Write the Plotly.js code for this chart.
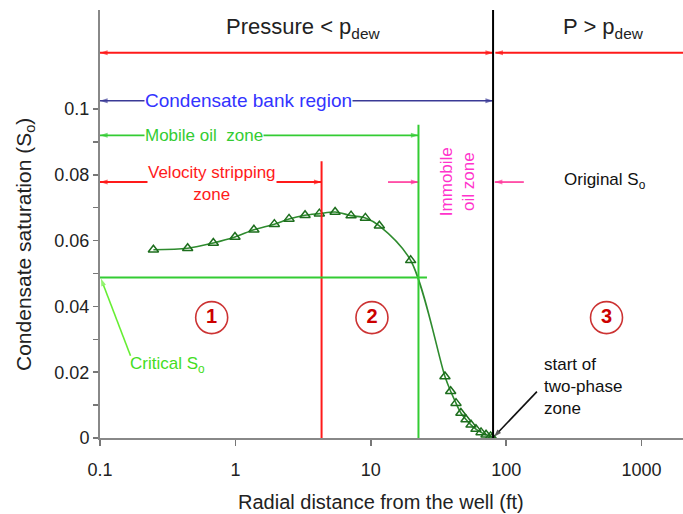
<!DOCTYPE html>
<html>
<head>
<meta charset="utf-8">
<script src="https://cdn.plot.ly/plotly-3.0.1.min.js"></script>
<style>html,body{margin:0;padding:0;background:#fff;}#chart{width:683px;height:514px;}</style>
</head>
<body>
<div id="chart"></div>
<script>
// ---- data ----
const distanceFt = [0.248, 0.444, 0.687, 0.993, 1.37, 1.94, 2.49, 3.27, 4.17, 5.45, 7.15, 9.12, 11.57, 19.7,
                    35.3, 38.9, 42.6, 46.3, 50.5, 55.0, 59.8, 65.2, 71.0, 76.7, 79.0];
const condensateSat = [0.0572, 0.0577, 0.0593, 0.0611, 0.0633, 0.0650, 0.0666, 0.0677, 0.0682, 0.0687, 0.0676, 0.0669, 0.0645, 0.0540,
                       0.0187, 0.0142, 0.0106, 0.0076, 0.0056, 0.0040, 0.0027, 0.0017, 0.0010, 0.0005, 0.0001];
const xTickVals = [0.1, 1, 10, 100, 1000];
const xTickText = ['0.1', '1', '10', '100', '1000'];
const yTickVals = [0, 0.02, 0.04, 0.06, 0.08, 0.1];
const yTickText = ['0', '0.02', '0.04', '0.06', '0.08', '0.1'];
const yMinorVals = [0.01, 0.03, 0.05, 0.07, 0.09];

// zone boundaries / reference values
const wellRadius = 0.1;       // ft, left edge
const dewRadius = 80;         // ft, start of two-phase zone
const strippingEdge = 4.33;   // ft, end of velocity stripping zone
const mobileEdge = 22.5;      // ft, end of mobile oil zone
const criticalSo = 0.0488;    // critical condensate saturation
const criticalLineEnd = 26;   // ft
const xMax = 2023;            // ft, right edge
const zoneLabels = ['1', '2', '3'];
const zoneLabelX = [0.668, 10.2, 551];
const zoneLabelY = 0.0366;

const L = Math.log10;
const FONT = 'Liberation Sans, Arial, sans-serif';
const RED = '#ff1a1a', GREEN = '#33cc33', NAVY = '#3a3a96', PINK = '#ff3399';

const curve = {
  x: distanceFt, y: condensateSat, type: 'scatter', mode: 'lines+markers',
  line: {color: '#2e8b2e', width: 1.6, shape: 'spline', smoothing: 0.9},
  marker: {symbol: 'triangle-up-open', size: 9, color: '#1d6e1d', line: {width: 1.5, color: '#1d6e1d'}},
  hoverinfo: 'skip'
};

// horizontal arrow: heads given by angles (90 = pointing right, -90 = pointing left, null = none)
function hArrow(x0, x1, y, color, width, a0, a1) {
  return {x: [x0, x1], y: [y, y], type: 'scatter', mode: 'lines+markers', hoverinfo: 'skip', cliponaxis: false,
          line: {color: color, width: width},
          marker: {symbol: 'arrow', size: [a0 === null ? 0 : 8, a1 === null ? 0 : 8],
                   angle: [a0 === null ? 0 : a0, a1 === null ? 0 : a1], color: color, line: {width: 0}}};
}
// diagonal arrow from tail to head
function dArrow(xt, yt, xh, yh, color, width) {
  return {x: [xt, xh], y: [yt, yh], type: 'scatter', mode: 'lines+markers', hoverinfo: 'skip', cliponaxis: false,
          line: {color: color, width: width},
          marker: {symbol: 'arrow', size: [0, 8], angleref: 'previous', color: color, line: {width: 0}}};
}

const arrows = [
  hArrow(wellRadius, dewRadius, 0.1171, RED, 2, -90, 90),
  hArrow(dewRadius * 1.04, xMax, 0.1171, RED, 2, -90, null),
  hArrow(wellRadius, dewRadius, 0.1025, NAVY, 1.6, -90, 90),
  hArrow(wellRadius, mobileEdge, 0.0920, GREEN, 1.8, -90, 90),
  hArrow(wellRadius, strippingEdge, 0.0778, RED, 2, -90, 90),
  hArrow(13.4, mobileEdge, 0.0778, PINK, 1.6, null, 90),
  hArrow(dewRadius * 1.03, 135, 0.0778, PINK, 1.6, -90, null),
  dArrow(0.168, 0.0250, 0.1016, 0.0485, '#66ee33', 1.6),
  dArrow(168.7, 0.0141, 81.3, 0.0004, '#111', 1.6)
];

const zoneMarks = {
  x: zoneLabelX, y: zoneLabelX.map(() => zoneLabelY), text: zoneLabels.map(t => '<b>' + t + '</b>'),
  type: 'scatter', mode: 'markers+text', textposition: 'middle center', hoverinfo: 'skip', cliponaxis: false,
  textfont: {family: FONT, size: 20, color: '#cc0000'},
  marker: {symbol: 'circle-open', size: 32, color: '#cc3333', line: {width: 1.6, color: '#cc3333'}}
};

function label(x, y, text, color, size, extra) {
  return Object.assign({x: L(x), y: y, xref: 'x', yref: 'y', text: text, showarrow: false,
          font: {family: FONT, size: size, color: color}}, extra || {});
}

const annotations = [
  label(3.16, 0.1247, 'Pressure &lt; p<sub>dew</sub>', '#222', 22),
  label(519, 0.1247, 'P &gt; p<sub>dew</sub>', '#222', 22),
  label(1.24, 0.1025, 'Condensate bank region', '#3333ff', 19, {bgcolor: 'white', borderpad: 0}),
  label(0.586, 0.0920, 'Mobile oil&nbsp; zone', GREEN, 17, {bgcolor: 'white', borderpad: 0}),
  label(0.671, 0.0775, 'Velocity stripping<br>zone', RED, 17, {bgcolor: 'white', borderpad: 0}),
  label(43.4, 0.0778, 'Immobile<br>oil zone', '#ff33cc', 17, {textangle: -90}),
  label(537, 0.0782, 'Original S<sub>o</sub>', '#111', 17),
  label(0.313, 0.0223, 'Critical S<sub>o</sub>', '#44dd22', 17),
  label(184, 0.0156, 'start of<br>two-phase<br>zone', '#111', 17, {xanchor: 'left', align: 'left'}),
  {xref: 'paper', yref: 'paper', x: 0.482, y: -0.1495, xanchor: 'center', yanchor: 'middle', showarrow: false,
   text: 'Radial distance from the well (ft)', font: {family: FONT, size: 20, color: '#222'}},
  {xref: 'paper', yref: 'paper', x: 0, xshift: -75, y: 0.451, xanchor: 'center', yanchor: 'middle', showarrow: false,
   textangle: -90, text: 'Condensate saturation (S<sub>o</sub>)', font: {family: FONT, size: 21, color: '#222'}}
];

const shapes = [
  {type: 'line', xref: 'x', yref: 'paper', x0: dewRadius, x1: dewRadius, y0: 0, y1: 1, line: {color: '#000', width: 2}},
  {type: 'line', xref: 'x', yref: 'y', x0: strippingEdge, x1: strippingEdge, y0: 0, y1: 0.0841, line: {color: RED, width: 2}},
  {type: 'line', xref: 'x', yref: 'y', x0: mobileEdge, x1: mobileEdge, y0: 0, y1: 0.0952, line: {color: GREEN, width: 2}},
  {type: 'line', xref: 'x', yref: 'y', x0: wellRadius, x1: criticalLineEnd, y0: criticalSo, y1: criticalSo, line: {color: GREEN, width: 2}}
];

const layout = {
  width: 683, height: 514,
  margin: {l: 100, r: 0, t: 10, b: 76},
  paper_bgcolor: 'white', plot_bgcolor: 'white',
  showlegend: false,
  font: {family: FONT, color: '#222'},
  xaxis: {
    type: 'log', range: [L(wellRadius), L(xMax)],
    tickvals: xTickVals, ticktext: xTickText,
    ticks: 'outside', ticklen: 6, tickwidth: 1.5, tickcolor: '#777',
    showline: true, linecolor: '#888', linewidth: 2,
    showgrid: false, zeroline: false, ticklabelstandoff: 8,
    tickfont: {size: 18, color: '#222'}
  },
  yaxis: {
    range: [0, 0.1301],
    tickvals: yTickVals, ticktext: yTickText,
    ticks: 'outside', ticklen: 5, tickwidth: 1.5, tickcolor: '#777',
    minor: {tickvals: yMinorVals, ticks: 'outside', ticklen: 5, tickwidth: 1.5, tickcolor: '#777', showgrid: false},
    showline: true, linecolor: '#888', linewidth: 2,
    showgrid: false, zeroline: false,
    tickfont: {size: 18, color: '#222'}
  },
  annotations: annotations,
  shapes: shapes
};

Plotly.newPlot('chart', [curve].concat(arrows, [zoneMarks]), layout, {displayModeBar: false, staticPlot: true});
</script>
</body>
</html>
